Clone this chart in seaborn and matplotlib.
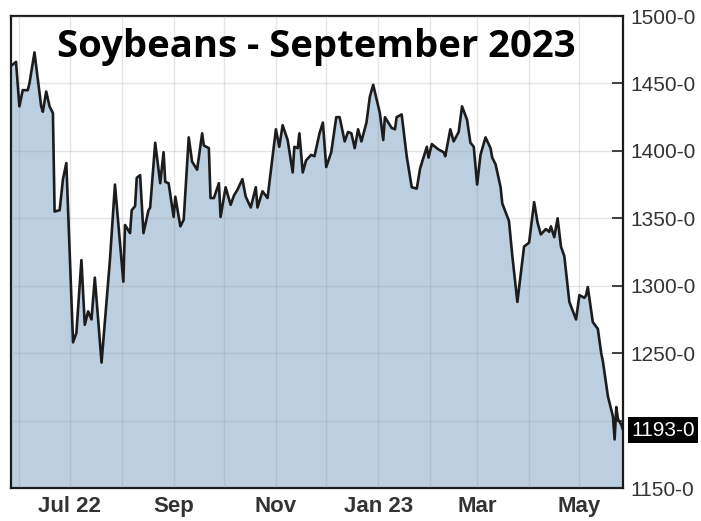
import numpy as np
import pandas as pd
import matplotlib
matplotlib.use('Agg')
import matplotlib.pyplot as plt
import matplotlib.dates as mdates
import matplotlib.transforms as mtransforms
import seaborn as sns

# soybeans sept 2023 contract
dates = [
    '2022-05-27', '2022-05-30', '2022-06-01', '2022-06-03', '2022-06-06', '2022-06-07',
    '2022-06-10', '2022-06-12', '2022-06-14', '2022-06-15', '2022-06-17', '2022-06-19',
    '2022-06-21', '2022-06-22', '2022-06-25', '2022-06-27', '2022-06-29', '2022-07-03',
    '2022-07-05', '2022-07-08', '2022-07-10', '2022-07-12', '2022-07-14', '2022-07-16',
    '2022-07-20', '2022-07-25', '2022-07-28', '2022-08-02', '2022-08-03', '2022-08-06',
    '2022-08-07', '2022-08-09', '2022-08-10', '2022-08-12', '2022-08-14', '2022-08-17',
    '2022-08-18', '2022-08-21', '2022-08-24', '2022-08-26', '2022-08-27', '2022-08-29',
    '2022-09-01', '2022-09-02', '2022-09-05', '2022-09-07', '2022-09-10', '2022-09-12',
    '2022-09-15', '2022-09-18', '2022-09-19', '2022-09-22', '2022-09-23', '2022-09-25',
    '2022-09-28', '2022-09-29', '2022-10-02', '2022-10-05', '2022-10-07', '2022-10-09',
    '2022-10-12', '2022-10-14', '2022-10-17', '2022-10-20', '2022-10-21', '2022-10-24',
    '2022-10-27', '2022-10-30', '2022-11-01', '2022-11-03', '2022-11-05', '2022-11-08',
    '2022-11-11', '2022-11-12', '2022-11-14', '2022-11-15', '2022-11-17', '2022-11-19',
    '2022-11-22', '2022-11-24', '2022-11-27', '2022-11-29', '2022-12-01', '2022-12-04',
    '2022-12-07', '2022-12-09', '2022-12-12', '2022-12-14', '2022-12-16', '2022-12-18',
    '2022-12-20', '2022-12-22', '2022-12-25', '2022-12-27', '2022-12-29', '2023-01-02',
    '2023-01-04', '2023-01-05', '2023-01-09', '2023-01-11', '2023-01-12', '2023-01-15',
    '2023-01-18', '2023-01-21', '2023-01-24', '2023-01-26', '2023-01-30', '2023-01-31',
    '2023-02-02', '2023-02-06', '2023-02-09', '2023-02-10', '2023-02-13', '2023-02-15',
    '2023-02-18', '2023-02-20', '2023-02-23', '2023-02-25', '2023-02-27', '2023-03-01',
    '2023-03-03', '2023-03-06', '2023-03-09', '2023-03-10', '2023-03-12', '2023-03-15',
    '2023-03-16', '2023-03-20', '2023-03-22', '2023-03-25', '2023-03-29', '2023-04-01',
    '2023-04-04', '2023-04-06', '2023-04-08', '2023-04-11', '2023-04-13', '2023-04-14',
    '2023-04-16', '2023-04-18', '2023-04-20', '2023-04-22', '2023-04-25', '2023-04-29',
    '2023-05-01', '2023-05-04', '2023-05-05', '2023-05-06', '2023-05-09', '2023-05-12',
    '2023-05-14', '2023-05-15', '2023-05-18', '2023-05-21', '2023-05-22', '2023-05-23',
    '2023-05-24', '2023-05-26', '2023-05-27',
]
prices = [
    1463, 1466, 1433, 1445, 1445, 1450,
    1473, 1453, 1433, 1429, 1444, 1433,
    1428, 1355, 1356, 1379, 1391, 1258,
    1265, 1319, 1271, 1281, 1275, 1306,
    1243, 1319, 1375, 1303, 1345, 1339,
    1356, 1359, 1380, 1382, 1339, 1356,
    1358, 1406, 1376, 1399, 1377, 1376,
    1351, 1366, 1344, 1349, 1410, 1392,
    1386, 1413, 1404, 1402, 1365, 1365,
    1376, 1351, 1373, 1360, 1367, 1371,
    1379, 1366, 1358, 1373, 1358, 1370,
    1365, 1396, 1416, 1403, 1419, 1408,
    1384, 1403, 1402, 1413, 1384, 1393,
    1397, 1396, 1413, 1421, 1388, 1399,
    1425, 1425, 1407, 1414, 1413, 1402,
    1416, 1407, 1421, 1440, 1449, 1428,
    1408, 1425, 1417, 1416, 1425, 1427,
    1396, 1373, 1372, 1387, 1403, 1395,
    1405, 1401, 1399, 1396, 1416, 1407,
    1414, 1433, 1423, 1406, 1403, 1375,
    1397, 1410, 1402, 1395, 1390, 1373,
    1361, 1348, 1322, 1288, 1329, 1332,
    1362, 1347, 1338, 1342, 1340, 1344,
    1336, 1350, 1329, 1322, 1288, 1275,
    1293, 1291, 1293, 1299, 1273, 1268,
    1250, 1244, 1218, 1203, 1186, 1210,
    1201, 1197, 1193,
]

ytick_vals = [1150, 1200, 1250, 1300, 1350, 1400, 1450, 1500]
ytick_labels = ['1150-0', '', '1250-0', '1300-0', '1350-0', '1400-0', '1450-0', '1500-0']
xtick_dates = ['2022-07-01', '2022-09-01', '2022-11-01', '2023-01-01', '2023-03-01', '2023-05-01']
xtick_labels = ['Jul 22', 'Sep', 'Nov', 'Jan 23', 'Mar', 'May']
last_label = '1193-0'
last_value = 1193
title = 'Soybeans - September 2023'

df = pd.DataFrame({'date': pd.to_datetime(dates), 'price': prices})

sns.set_style('white')
plt.rcParams['font.family'] = ['Liberation Sans', 'DejaVu Sans']

fig = plt.figure(figsize=(7.01, 5.21), dpi=100)
ax = fig.add_axes([11/701, 33/521, 612/701, 472/521])

ax.fill_between(df['date'], df['price'], 1150, color='#bccfe0', lw=0, zorder=1)
sns.lineplot(data=df, x='date', y='price', ax=ax, color='#1c1c1c', lw=1.9, zorder=3)

ax.set_xlim(df['date'].min(), df['date'].max())
ax.set_ylim(1150, 1500)
ax.set_xlabel('')
ax.set_ylabel('')

# grid over the fill, under the line
ax.set_axisbelow(False)
ax.xaxis.set_minor_locator(mdates.MonthLocator())
ax.set_xticks(pd.to_datetime(xtick_dates))
ax.set_xticklabels(xtick_labels, fontweight='bold')
ax.grid(which='both', axis='x', color='#808080', alpha=0.2, lw=1)
ax.grid(which='major', axis='y', color='#808080', alpha=0.2, lw=1)

ax.yaxis.tick_right()
ax.set_yticks(ytick_vals)
ax.set_yticklabels(ytick_labels)
ax.tick_params(axis='y', direction='in', length=8, width=1.2, pad=5,
               labelsize=15, labelcolor='#333333', color='#222222')
ax.tick_params(axis='x', which='major', direction='out', length=3, width=1.2, pad=2.5,
               labelsize=16, labelcolor='#333333', color='#222222')
ax.tick_params(axis='x', which='minor', length=0)

for s in ax.spines.values():
    s.set_visible(True)
    s.set_color('#1a1a1a')
    s.set_linewidth(1.6)

ax.text(0.075, 0.913, title, transform=ax.transAxes, fontsize=27.5, fontweight='bold',
        family='Open Sans', ha='left', va='baseline', color='black', zorder=5)

trans = mtransforms.blended_transform_factory(ax.transAxes, ax.transData)
ax.text(1.013, last_value, last_label, transform=trans, ha='left', va='center',
        color='white', fontsize=15, clip_on=False,
        bbox=dict(boxstyle='square,pad=0.15', fc='black', ec='none'))

fig.savefig('out.png', dpi=100)
